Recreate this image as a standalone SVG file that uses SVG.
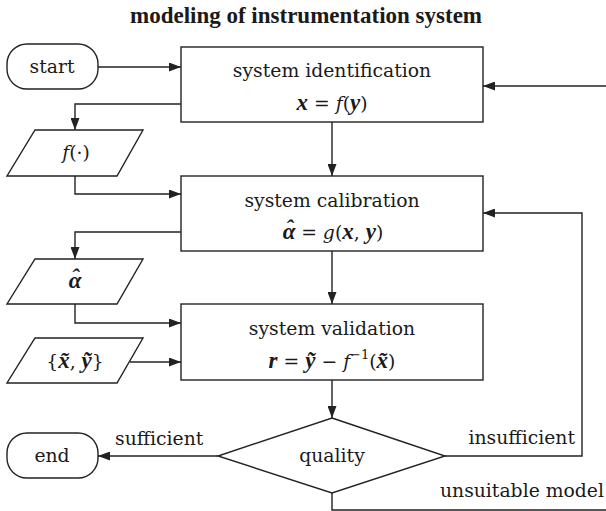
<svg xmlns="http://www.w3.org/2000/svg" width="606" height="511" viewBox="0 0 606 511">
<style>
text{font-family:'DejaVu Serif','Liberation Serif',serif;font-size:18.8px;fill:#1a1a1a}
.m{font-style:italic}
.b{font-family:'Liberation Serif','DejaVu Serif',serif;font-size:23px;font-weight:bold;font-style:italic}
.u{font-style:normal;font-weight:normal}
.title{font-family:'Liberation Serif',serif;font-size:23px;font-weight:bold}
.shape{fill:#fff;stroke:#222;stroke-width:1.4}
.c{fill:none;stroke:#222;stroke-width:1.4}
</style>
<defs>
<marker id="ah" viewBox="0 0 12 9" refX="12" refY="4.5" markerWidth="12" markerHeight="9" markerUnits="userSpaceOnUse" orient="auto">
<path d="M0,0 L12,4.5 L0,9 z" fill="#222"/>
</marker>
</defs>
<rect width="606" height="511" fill="#fff"/>
<text class="title" x="306" y="23" text-anchor="middle">modeling of instrumentation system</text>

<g id="connectors">
<path class="c" d="M98,67 H181" marker-end="url(#ah)"/>
<path class="c" d="M606,86 H483" marker-end="url(#ah)"/>
<path class="c" d="M181,104 H75 V130" marker-end="url(#ah)"/>
<path class="c" d="M332,122 V176" marker-end="url(#ah)"/>
<path class="c" d="M75,176 V194 H181" marker-end="url(#ah)"/>
<path class="c" d="M181,232 H75 V259" marker-end="url(#ah)"/>
<path class="c" d="M332,251 V304" marker-end="url(#ah)"/>
<path class="c" d="M75,304 V323 H181" marker-end="url(#ah)"/>
<path class="c" d="M130,362 H181" marker-end="url(#ah)"/>
<path class="c" d="M332,380 V418" marker-end="url(#ah)"/>
<path class="c" d="M218,456 H98" marker-end="url(#ah)"/>
<path class="c" d="M445,456 H582 V213 H483" marker-end="url(#ah)"/>
<path class="c" d="M332,493 V510 H606"/>
<text x="115" y="445">sufficient</text>
<text x="575" y="444" text-anchor="end">insufficient</text>
<text x="604" y="497" text-anchor="end">unsuitable model</text>
</g>

<g id="start">
<rect class="shape" x="7" y="44" width="91" height="45" rx="20"/>
<text x="52" y="73" text-anchor="middle">start</text>
</g>

<g id="identification">
<rect class="shape" x="181" y="47" width="302" height="75"/>
<text x="332" y="77" text-anchor="middle">system identification</text>
<text class="m" x="332" y="110" text-anchor="middle"><tspan class="b">x</tspan><tspan class="u"> = </tspan>f<tspan class="u">(</tspan><tspan class="b">y</tspan><tspan class="u">)</tspan></text>
</g>

<g id="f-input">
<polygon class="shape" points="35,130 143,130 117,176 7,176"/>
<text class="m" x="76" y="159" text-anchor="middle">f<tspan class="u">(·)</tspan></text>
</g>

<g id="calibration">
<rect class="shape" x="181" y="176" width="302" height="75"/>
<text x="332" y="207" text-anchor="middle">system calibration</text>
<text class="m" x="333" y="239" text-anchor="middle"><tspan class="b">α</tspan><tspan class="b" dx="-10" dy="-3">ˆ</tspan><tspan class="u" dx="2" dy="3"> = </tspan>g<tspan class="u">(</tspan><tspan class="b">x</tspan><tspan class="u">, </tspan><tspan class="b">y</tspan><tspan class="u">)</tspan></text>
</g>

<g id="alpha-input">
<polygon class="shape" points="35,259 143,259 117,304 7,304"/>
<text class="b" x="75" y="288" text-anchor="middle">α<tspan dx="-10" dy="-3">ˆ</tspan><tspan dx="2" dy="3"> </tspan></text>
</g>

<g id="validation">
<rect class="shape" x="181" y="304" width="302" height="76"/>
<text x="332" y="335" text-anchor="middle">system validation</text>
<text class="m" x="332" y="368" text-anchor="middle"><tspan class="b">r</tspan><tspan class="u"> = </tspan><tspan class="b">ỹ</tspan><tspan class="u"> − </tspan>f<tspan font-size="13" dy="-9" class="u">−1</tspan><tspan class="u" dy="9">(</tspan><tspan class="b">x̃</tspan><tspan class="u">)</tspan></text>
</g>

<g id="data-input">
<polygon class="shape" points="35,338 143,338 117,383 7,383"/>
<text class="m" x="75" y="368" text-anchor="middle"><tspan class="u">{</tspan><tspan class="b">x̃</tspan><tspan class="u">, </tspan><tspan class="b">ỹ</tspan><tspan class="u">}</tspan></text>
</g>

<g id="quality">
<polygon class="shape" points="332,418 445,456 332,493 218,456"/>
<text x="332" y="462" text-anchor="middle">quality</text>
</g>

<g id="end">
<rect class="shape" x="7" y="433" width="91" height="45" rx="20"/>
<text x="52" y="462" text-anchor="middle">end</text>
</g>
</svg>
